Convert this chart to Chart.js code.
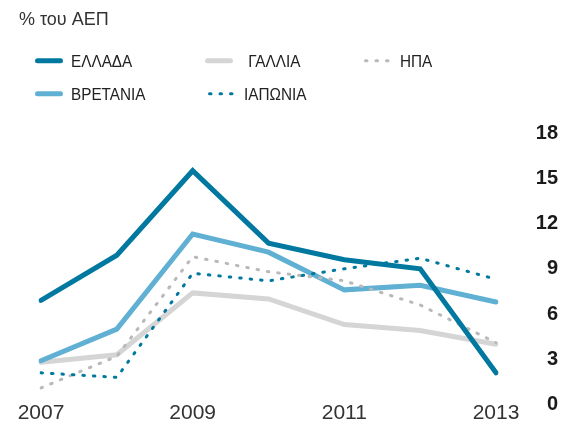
<!DOCTYPE html>
<html>
<head>
<meta charset="utf-8">
<script src="https://cdn.jsdelivr.net/npm/chart.js@4/dist/chart.umd.min.js"></script>
<style>
  html, body { margin: 0; padding: 0; background: #ffffff; }
  canvas { display: block; }
</style>
</head>
<body>
<canvas id="c" width="577" height="432"></canvas>
<script>
// ---- data ----
const years = ['2007', '2008', '2009', '2010', '2011', '2012', '2013'];
const xTickLabels = ['2007', '2009', '2011', '2013'];
const yTickValues = [0, 3, 6, 9, 12, 15, 18];
const titleText = '% του ΑΕΠ';

const greece  = [6.9, 9.9, 15.5, 10.7, 9.6, 9.0, 2.1];
const france  = [2.8, 3.3, 7.4, 7.0, 5.3, 4.9, 4.0];
const usa     = [1.1, 3.2, 9.8, 8.8, 8.2, 6.6, 4.1];
const uk      = [2.9, 5.0, 11.3, 10.1, 7.6, 7.9, 6.8];
const japan   = [2.1, 1.8, 8.7, 8.2, 9.0, 9.7, 8.3];

const seriesLabels = ['ΕΛΛΑΔΑ', ' ΓΑΛΛΙΑ', 'ΗΠΑ', 'ΒΡΕΤΑΝΙΑ', 'ΙΑΠΩΝΙΑ'];

// ---- styles ----
const DARK = '#00789f';
const LIGHT = '#5fb0d3';
const GREY = '#d5d5d5';
const GREY_DOT = '#b9b9b9';
const FONT = "'Liberation Sans', Arial, sans-serif";
const DOTS = [1.5, 9];

function solid(label, data, color, order) {
  return { label, data, borderColor: color, backgroundColor: color, borderWidth: 5,
    borderCapStyle: 'round', borderJoinStyle: 'miter', pointRadius: 0, tension: 0, order };
}
function dotted(label, data, color, order) {
  return { label, data, borderColor: color, backgroundColor: color, borderWidth: 3,
    borderDash: DOTS, borderCapStyle: 'round', borderJoinStyle: 'round', pointRadius: 0, tension: 0, order };
}

const datasets = [
  solid(seriesLabels[0], greece, DARK, 0),
  solid(seriesLabels[1], france, GREY, 4),
  dotted(seriesLabels[2], usa, GREY_DOT, 2),
  solid(seriesLabels[3], uk, LIGHT, 3),
  dotted(seriesLabels[4], japan, DARK, 1)
];

// legend grid: [datasetIndex, sampleX, textX, row]
const legendLayout = [
  [0, 35, 71, 0], [1, 205, 244, 0], [2, 364, 400, 0],
  [3, 35, 71, 1], [4, 208, 244, 1]
];

function condensedText(ctx, text, x, y, scaleX) {
  ctx.save();
  ctx.translate(x, y);
  ctx.scale(scaleX, 1);
  ctx.fillText(text, 0, 0);
  ctx.restore();
}

const headerPlugin = {
  id: 'header',
  afterDraw(chart) {
    const ctx = chart.ctx;
    ctx.save();
    ctx.fillStyle = '#333333';
    ctx.font = '18px ' + FONT;
    ctx.textAlign = 'left';
    ctx.textBaseline = 'alphabetic';
    ctx.fillText(titleText, 19, 25);

    const rowLineY = [60.7, 93.7];
    const rowBase = [66.7, 100];
    legendLayout.forEach(([di, sx, tx, row]) => {
      const ds = chart.data.datasets[di];
      ctx.save();
      ctx.strokeStyle = ds.borderColor;
      ctx.lineCap = 'round';
      if (ds.borderDash) {
        ctx.lineWidth = 3;
        ctx.setLineDash(ds.borderDash);
        ctx.beginPath();
        ctx.moveTo(sx + 1.5, rowLineY[row]);
        ctx.lineTo(sx + 26, rowLineY[row]);
        ctx.stroke();
      } else {
        ctx.lineWidth = 5;
        ctx.beginPath();
        ctx.moveTo(sx + 2.5, rowLineY[row]);
        ctx.lineTo(sx + 25.5, rowLineY[row]);
        ctx.stroke();
      }
      ctx.restore();
      ctx.fillStyle = '#222222';
      ctx.font = '17px ' + FONT;
      ctx.textAlign = 'left';
      ctx.textBaseline = 'alphabetic';
      condensedText(ctx, ds.label, tx, rowBase[row], 0.9);
    });
    ctx.restore();
  }
};

new Chart(document.getElementById('c'), {
  type: 'line',
  data: { labels: years, datasets },
  options: {
    responsive: false,
    devicePixelRatio: 1,
    animation: false,
    events: [],
    layout: { padding: { left: 41, right: 19, top: 133, bottom: 10.5 } },
    plugins: { legend: { display: false }, title: { display: false }, tooltip: { enabled: false } },
    scales: {
      x: {
        type: 'category',
        offset: false,
        grid: { display: false, drawTicks: false },
        border: { display: false },
        ticks: {
          autoSkip: false,
          maxRotation: 0,
          padding: -2,
          color: '#333333',
          font: { family: FONT, size: 21, lineHeight: 1 },
          callback(value) {
            const lab = this.getLabelForValue(value);
            return xTickLabels.includes(lab) ? lab : '';
          }
        }
      },
      y: {
        position: 'right',
        min: 0,
        max: 18,
        grid: { display: false, drawTicks: false },
        border: { display: false },
        afterBuildTicks(scale) { scale.ticks = yTickValues.map(v => ({ value: v })); },
        afterFit(scale) { scale.width = 62; scale.paddingTop = 0; scale.paddingBottom = 0; },
        ticks: {
          crossAlign: 'far',
          padding: 40,
          color: '#1a1a1a',
          font: { family: FONT, size: 20, weight: 'bold', lineHeight: 1 }
        }
      }
    }
  },
  plugins: [headerPlugin]
});
</script>
</body>
</html>
